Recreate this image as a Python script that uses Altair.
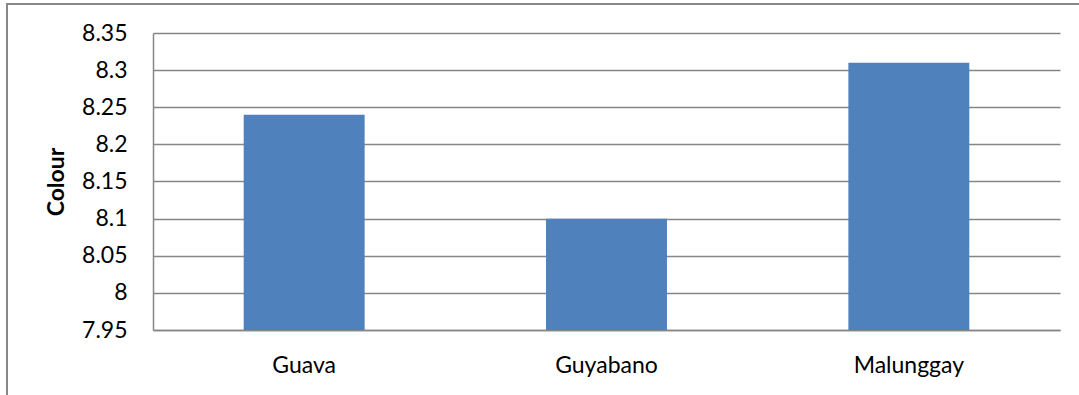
import altair as alt
import pandas as pd

# Colour scores per leaf extract
categories = ["Guava", "Guyabano", "Malunggay"]
colour_scores = [8.24, 8.10, 8.31]
y_ticks = [7.95, 8.0, 8.05, 8.1, 8.15, 8.2, 8.25, 8.3, 8.35]

df = pd.DataFrame({"sample": categories, "colour": colour_scores})

FONT = "Lato"
GRID = "#868686"

bars = alt.Chart(df).mark_bar(color="#4F81BD", clip=True).encode(
    x=alt.X(
        "sample:N",
        sort=categories,
        title=None,
        scale=alt.Scale(paddingInner=0.6, paddingOuter=0.3),
        axis=alt.Axis(
            labelAngle=0,
            labelFont=FONT,
            labelFontSize=23,
            labelColor="#000000",
            labelPadding=24,
            ticks=False,
            domainColor=GRID,
            domainWidth=1.5,
            grid=False,
        ),
    ),
    y=alt.Y(
        "colour:Q",
        title="Colour",
        scale=alt.Scale(domain=[7.95, 8.35], nice=False, zero=False),
        axis=alt.Axis(
            values=y_ticks,
            format=".2~f",
            labelFont=FONT,
            labelFontSize=23,
            labelColor="#000000",
            labelPadding=26,
            ticks=False,
            domainColor=GRID,
            domainWidth=1.5,
            gridColor=GRID,
            gridWidth=1.5,
            titleFont=FONT,
            titleFontSize=23,
            titleFontWeight="bold",
            titleColor="#000000",
            titlePadding=13,
        ),
    ),
)

# outer frame around the whole figure
frame = alt.Chart(df).mark_rect(fill=None, stroke=GRID, strokeWidth=1.5).encode(
    x=alt.value(-146),
    x2=alt.value(940),
    y=alt.value(-29),
    y2=alt.value(380),
)

chart = (
    alt.layer(frame, bars)
    .properties(
        width=907,
        height=297,
        autosize=alt.AutoSizeParams(type="none"),
        padding={"left": 153, "top": 33, "right": 19, "bottom": 65},
        background="#ffffff",
    )
    .configure_view(stroke=None)
)

chart.save("out.html", embed_options={"renderer": "svg", "actions": False})
